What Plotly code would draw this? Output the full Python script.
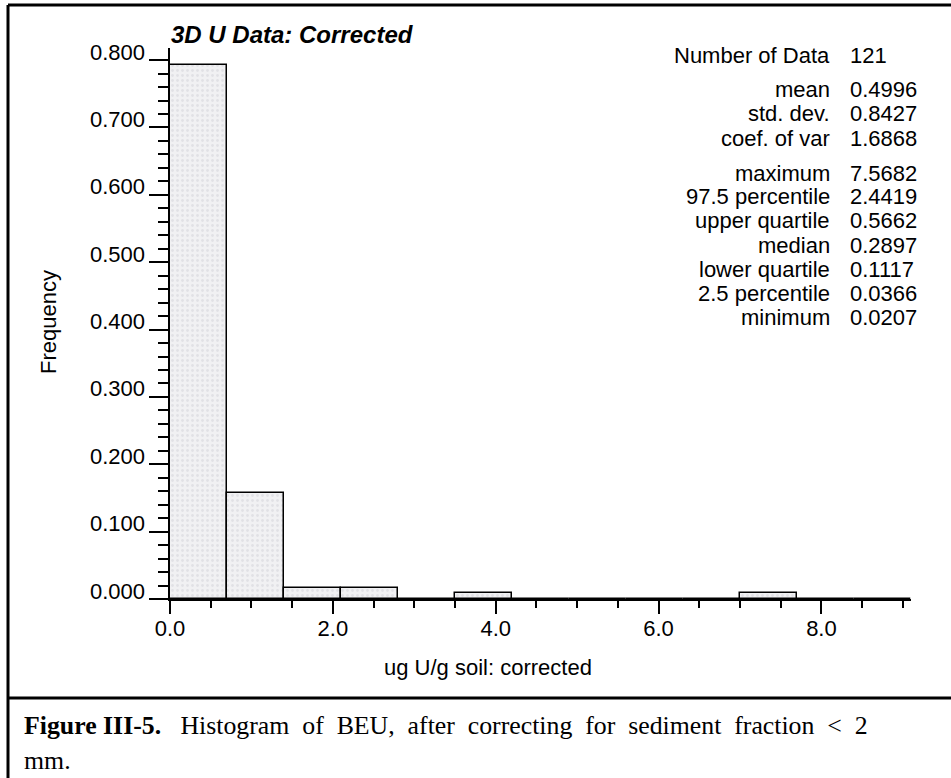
import plotly.graph_objects as go

# Histogram classes (width 0.7 ug/g) and counts per class, 121 samples
bin_left = [0.0, 0.7, 1.4, 2.1, 2.8, 3.5, 4.2, 4.9, 5.6, 6.3, 7.0, 7.7, 8.4]
bin_counts = [96, 19, 2, 2, 0, 1, 0, 0, 0, 0, 1, 0, 0]
n_data = 121
bin_width = 0.7
frequency = [c / n_data for c in bin_counts]

# Summary statistics block
stat_labels = ["Number of Data", "mean", "std. dev.", "coef. of var",
               "maximum", "97.5 percentile", "upper quartile", "median",
               "lower quartile", "2.5 percentile", "minimum"]
stat_values = ["121", "0.4996", "0.8427", "1.6868",
               "7.5682", "2.4419", "0.5662", "0.2897",
               "0.1117", "0.0366", "0.0207"]

y_ticks = [0.0, 0.1, 0.2, 0.3, 0.4, 0.5, 0.6, 0.7, 0.8]
y_tick_text = ["0.000", "0.100", "0.200", "0.300", "0.400",
               "0.500", "0.600", "0.700", "0.800"]
x_ticks = [0, 2, 4, 6, 8]
x_tick_text = ["0.0", "2.0", "4.0", "6.0", "8.0"]

caption_bold = "Figure III-5."
caption_words = ["Histogram", "of", "BEU,", "after", "correcting", "for",
                 "sediment", "fraction", "&lt;", "2"]
caption_tail = "mm."

W, H = 951, 778
L, R, T, B = 170, 40, 48, 179
PW, PH = W - L - R, H - T - B
SANS = "Liberation Sans, Arial, Helvetica, sans-serif"
SERIF = "Liberation Serif, Times New Roman, serif"
FS = 22


def px(xp):
    return (xp - L) / PW


def py(yp):
    return (H - B - yp) / PH


fig = go.Figure(go.Bar(
    x=bin_left, y=frequency, width=bin_width, offset=0,
    marker=dict(
        color="#ededf0",
        line=dict(color="black", width=1.5),
        pattern=dict(shape=".", fgcolor="#d2d2d8", bgcolor="#f1f1f3",
                     size=5, solidity=0.25),
    ),
    hoverinfo="skip",
))

fig.update_layout(
    width=W, height=H,
    margin=dict(l=L, r=R, t=T, b=B),
    plot_bgcolor="white", paper_bgcolor="white",
    showlegend=False, bargap=0,
    font=dict(family=SANS, size=FS, color="black"),
)

fig.update_xaxes(
    range=[0, 9.1], showgrid=False, zeroline=False,
    showline=True, linecolor="black", linewidth=2,
    ticks="outside", ticklen=13, tickwidth=1.5, tickcolor="black",
    tickvals=x_ticks, ticktext=x_tick_text, ticklabelstandoff=-4,
    tickfont=dict(size=FS),
    minor=dict(ticks="outside", ticklen=7, tickwidth=1.5,
               tickcolor="black", dtick=0.5, tick0=0, showgrid=False),
)
fig.update_yaxes(
    range=[0, 0.818], showgrid=False, zeroline=False,
    showline=True, linecolor="black", linewidth=2,
    ticks="outside", ticklen=19, tickwidth=1.5, tickcolor="black",
    tickvals=y_ticks, showticklabels=False,
    minor=dict(ticks="outside", ticklen=10, tickwidth=1.5,
               tickcolor="black", dtick=0.02, tick0=0, showgrid=False),
)

ann = []
# y tick labels sit just above their tick marks
for v, t in zip(y_ticks, y_tick_text):
    ann.append(dict(x=0, xref="x", y=v, yref="y", text=t, showarrow=False,
                    xanchor="right", yanchor="middle", xshift=-23, yshift=8,
                    font=dict(size=FS)))

ann.append(dict(x=px(169), y=py(34), xref="paper", yref="paper",
                text="<b><i>3D U Data: Corrected</i></b>", showarrow=False,
                xanchor="left", yanchor="middle", font=dict(size=24)))
ann.append(dict(x=px(48), y=py(322), xref="paper", yref="paper",
                text="Frequency", textangle=-90, showarrow=False,
                xanchor="center", yanchor="middle", font=dict(size=FS)))
ann.append(dict(x=px(488), y=py(667), xref="paper", yref="paper",
                text="ug U/g soil: corrected", showarrow=False,
                xanchor="center", yanchor="middle", font=dict(size=FS)))

stat_rows_y = [56, 90, 114, 138, 173, 197, 221, 245, 269, 293, 317]
for lab, val, yy in zip(stat_labels, stat_values, stat_rows_y):
    ann.append(dict(x=px(832), y=py(yy), xref="paper", yref="paper",
                    text=lab, showarrow=False, xanchor="right",
                    yanchor="middle", font=dict(size=FS)))
    ann.append(dict(x=px(848), y=py(yy), xref="paper", yref="paper",
                    text=val, showarrow=False, xanchor="left",
                    yanchor="middle", font=dict(size=FS)))

# figure caption below the frame; first line spread across the column
gap = "&nbsp; "
caption_line = ("<b>" + caption_bold + "</b>&nbsp;&nbsp; "
                + gap.join(caption_words))
ann.append(dict(x=px(22), y=py(725), xref="paper", yref="paper",
                text=caption_line, showarrow=False,
                xanchor="left", yanchor="middle",
                font=dict(family=SERIF, size=25.8)))
ann.append(dict(x=px(22), y=py(760), xref="paper", yref="paper",
                text=caption_tail, showarrow=False, xanchor="left",
                yanchor="middle", font=dict(family=SERIF, size=25.8)))
fig.update_layout(annotations=ann)

# frame lines around the chart and caption
frame = dict(color="black", width=3)
fig.update_layout(shapes=[
    dict(type="line", xref="paper", yref="paper", x0=px(8), x1=px(951),
         y0=py(5), y1=py(5), line=frame),
    dict(type="line", xref="paper", yref="paper", x0=px(8), x1=px(8),
         y0=py(5), y1=py(778), line=frame),
    dict(type="line", xref="paper", yref="paper", x0=px(8), x1=px(951),
         y0=py(698), y1=py(698), line=frame),
])

fig.write_html("out.html")
